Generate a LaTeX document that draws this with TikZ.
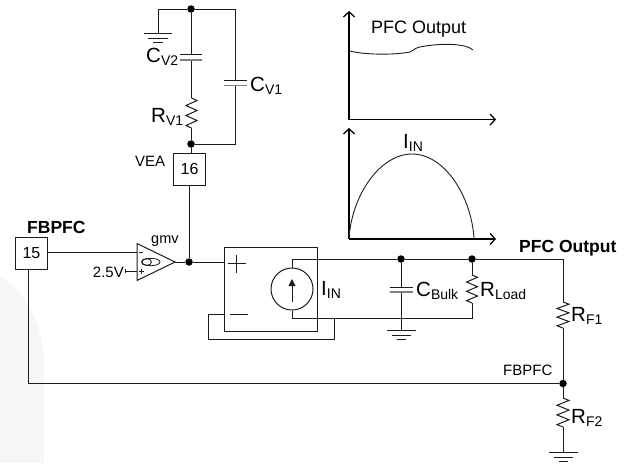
\documentclass[tikz,border=0pt]{standalone}
\usepackage{fontspec}
\setmainfont{Liberation Sans}
\usetikzlibrary{arrows.meta}
\definecolor{wire}{HTML}{1c1c1c}
\newcommand{\lab}[2]{{\fontsize{20.5}{20}\selectfont #1}{\fontsize{14}{14}\selectfont\raisebox{-3pt}{#2}}}
\tikzset{
  x=1pt,y=-1pt,
  wirepath/.style={draw=wire,line width=1pt},
  axisline/.style={draw=black,line width=1.5pt,-{Straight Barb[length=5pt,width=11pt,line width=1.3pt]}},
  curveline/.style={draw=wire,line width=0.9pt},
  dotn/.style={circle,fill=black,inner sep=0pt,minimum size=7.5pt},
  pinbox/.style={draw=wire,line width=1pt,fill=white,minimum size=32pt,inner sep=0pt,font=\fontsize{16}{16}\selectfont},
  small/.style={inner sep=0pt,font=\fontsize{15}{15}\selectfont},
  bold/.style={inner sep=0pt,font=\fontsize{17.5}{18}\selectfont\bfseries},
  big/.style={inner sep=0pt,anchor=base west},
}
\newcommand{\zigv}[4]{%
  \pgfmathsetmacro{\dy}{(#3-#2)/6}
  \draw[wirepath,line join=miter] (#1,#2) -- ({#1+#4},{#2+0.5*\dy}) -- ({#1-#4},{#2+1.5*\dy}) -- ({#1+#4},{#2+2.5*\dy}) -- ({#1-#4},{#2+3.5*\dy}) -- ({#1+#4},{#2+4.5*\dy}) -- ({#1-#4},{#2+5.5*\dy}) -- (#1,#3);}
\newcommand{\gnd}[3]{%
  \draw[wirepath] ({#1-#3},#2) -- ({#1+#3},#2);
  \draw[wirepath] ({#1-0.68*#3},{#2+5}) -- ({#1+0.68*#3},{#2+5});
  \draw[wirepath] ({#1-0.34*#3},{#2+9.5}) -- ({#1+0.34*#3},{#2+9.5});}
\newcommand{\capv}[4]{%
  \fill[white] ({#1-#4},#2) rectangle ({#1+#4},#3);
  \draw[wirepath] ({#1-#4},#2) -- ({#1+#4},#2);
  \draw[draw=gray,line width=1.1pt] ({#1-#4},#3) -- ({#1+#4},#3);}
\begin{document}
\begin{tikzpicture}
\useasboundingbox (0,0) rectangle (628,464);
\fill[black!3.5] (0,463) -- (0,277) .. controls (25,290) and (44,325) .. (44,365) -- (44,463) -- cycle;

\node[dotn] (jtop) at (191,9) {};
\node[dotn] (jvea) at (191,144) {};
\node[dotn] (jamp) at (189,262) {};
\node[dotn] (jcb) at (401,259) {};
\node[dotn] (jrl) at (472,259) {};
\node[dotn] (jfb) at (563,383.5) {};
\node[pinbox] (p16) at (189.5,169) {16};
\node[pinbox] (p15) at (31.5,253.5) {15};
\coordinate (gtop) at (158,33);
\coordinate (rtc) at (235,9);
\coordinate (rbc) at (235,144);
\coordinate (ampout) at (175,262);
\coordinate (boxin) at (224,262);
\coordinate (srcT) at (292,259);
\coordinate (srcB) at (292,318);
\coordinate (outR) at (563,259);
\coordinate (loadB) at (472,318);

\draw[wirepath] (gtop) |- (jtop) -- (rtc) -- (rbc) -- (jvea);
\gnd{158}{33}{14}
\draw[wirepath] (jtop) -- (191,98);
\capv{191}{54}{60}{11}
\zigv{191.5}{98}{128}{5.5}
\draw[wirepath] (191,128) -- (jvea) -- (p16.north -| jvea);
\capv{235}{80}{85.5}{11.5}
\draw[wirepath] (p16.south -| jamp) -- (jamp);

\draw[wirepath] (p15.east |- 0,252) -- (137,252);
\draw[wirepath,fill=white] (137,243.5) -- (137,280.5) -- (ampout) -- cycle;
\draw[wirepath] (125,271) -- (137,271);
\draw[wirepath] (125,269) -- (125,273);
\draw[wirepath] (ampout) -- (jamp) -- (boxin);
\draw[wirepath,line width=0.8pt] (146.5,262) ellipse (5 and 3.4);
\draw[wirepath,line width=0.8pt] (151,262) ellipse (9 and 3.7);
\draw[wirepath,line width=0.7pt] (139,252) -- (143,252);
\draw[wirepath,line width=0.7pt] (139,271.5) -- (144,271.5) (141.5,269) -- (141.5,274);

\draw[wirepath] (224,247) rectangle (317,331);
\draw[wirepath] (228,263) -- (246,263) (236,255) -- (236,273);
\draw[wirepath] (230,314) -- (248,314);
\node[draw=wire,line width=1pt,circle,minimum size=42pt,inner sep=0pt] (src) at (292,289) {};
\draw[draw=wire,line width=1pt,-{Triangle[length=7pt,width=7pt]}] (292,302) -- (292,279);
\draw[wirepath] (src.north) -- (srcT) -- (jcb);
\draw[wirepath] (jcb) -- (jrl) -- (outR) -- (563,302);
\draw[wirepath] (src.south) -- (srcB) -- (loadB) -- (472,303);
\draw[wirepath] (224,314) -- (208,314) -- (208,339) -- (334,339) -- (334,318);

\draw[wirepath] (jcb) -- (401,330);
\capv{401}{287}{292}{11.5}
\gnd{401.5}{330}{14.5}
\draw[wirepath] (jrl) -- (472,275);
\zigv{472}{275}{303}{5.5}

\zigv{563}{302}{328}{6}
\draw[wirepath] (563,328) -- (jfb) -- (563,398);
\zigv{563}{398}{427}{6}
\draw[wirepath] (563,427) -- (563,452);
\gnd{563.5}{452}{14.5}
\draw[wirepath] (p15.south -| 28,0) -- (28,383.5) -- (jfb);

\coordinate (o1) at (349,119.5);
\coordinate (o2) at (349,239);
\draw[axisline] (o1) -- (349,11);
\draw[axisline] (o1) -- (496,119.5);
\draw[axisline] (o2) -- (349,128);
\draw[axisline] (o2) -- (496,239);
\draw[curveline] (350,51) .. controls (365,55) and (395,55) .. (410,52) .. controls (414,51) and (412,49) .. (420,47) .. controls (440,43) and (465,43) .. (473,50);
\draw[curveline] (349,238) .. controls (352,195) and (380,154) .. (412,154) .. controls (444,154) and (471,195) .. (474,238);

\node[big] at (146,62) {\lab{C}{V2}};
\node[big] at (250,91) {\lab{C}{V1}};
\node[big] at (151,122) {\lab{R}{V1}};
\node[small,anchor=base west] at (135,166) {VEA};
\node[bold,anchor=base west] at (27,233) {FBPFC};
\node[font=\fontsize{14.5}{15}\selectfont,inner sep=0pt,anchor=base west] at (151,243) {gmv};
\node[inner sep=0pt,anchor=base east,font=\fontsize{15}{15}\selectfont] at (124,277) {2.5V};
\node[big] at (321,295) {\lab{I}{IN}};
\node[big] at (416,296) {\lab{C}{Bulk}};
\node[big] at (480,296) {\lab{R}{Load}};
\node[big] at (571,321) {\lab{R}{F1}};
\node[big] at (571,423) {\lab{R}{F2}};
\node[bold,anchor=base west] at (519,252) {PFC Output};
\node[small,anchor=base west] at (503,375) {FBPFC};
\node[inner sep=0pt,anchor=base west,font=\fontsize{18}{18}\selectfont] at (371,33) {PFC Output};
\node[big] at (403,148) {\lab{I}{IN}};
\end{tikzpicture}
\end{document}
